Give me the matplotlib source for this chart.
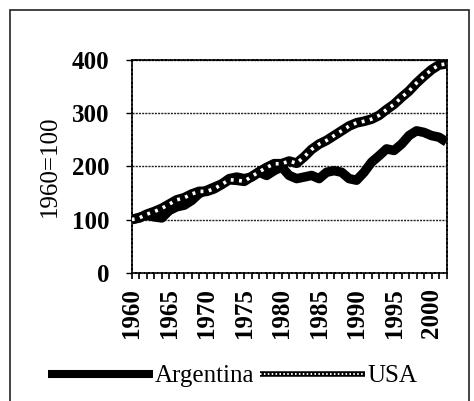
import matplotlib
matplotlib.use("Agg")
import matplotlib.pyplot as plt
from matplotlib.lines import Line2D
from matplotlib.legend_handler import HandlerTuple
from matplotlib.patches import Rectangle

years = list(range(1960, 2003))
argentina = [100, 104, 108, 105, 103, 117, 124, 127, 136, 149,
             155, 161, 167, 177, 180, 177, 180, 189, 183, 192,
             199, 183, 177, 180, 183, 177, 189, 192, 189, 177,
             174, 189, 208, 220, 233, 230, 242, 258, 267, 264,
             258, 255, 246]
usa = [100, 103, 110, 115, 121, 129, 137, 141, 148, 153,
       153, 158, 166, 175, 174, 172, 181, 190, 198, 205,
       205, 210, 206, 218, 232, 242, 249, 258, 267, 276,
       282, 285, 289, 296, 307, 317, 330, 342, 357, 370,
       382, 391, 393]
yticks = [0, 100, 200, 300, 400]
xlabels = [1960, 1965, 1970, 1975, 1980, 1985, 1990, 1995, 2000]

plt.rcParams['font.family'] = ['Liberation Serif', 'DejaVu Serif']

fig = plt.figure(figsize=(4.74, 4.01), dpi=100)
ax = fig.add_axes([0.278, 0.320, 0.664, 0.530])

for y in yticks[1:]:
    ax.axhline(y, color='#222222', lw=1.0, ls=(0, (1.5, 0.8)), zorder=1)

ax.plot(years, argentina, color='black', lw=6.8, solid_capstyle='butt',
        solid_joinstyle='round', zorder=3)
ax.plot(years, usa, color='black', lw=7.0, solid_capstyle='butt',
        solid_joinstyle='round', zorder=4)
ax.plot(years, usa, color='white', lw=2.6, ls=(0, (0.8, 1.5)), zorder=5)

ax.set_xlim(1960, 2002)
ax.set_ylim(0, 400)
ax.set_yticks(yticks)
ax.set_yticklabels([str(v) for v in yticks], fontsize=18, fontweight='bold')
ax.set_xticks(xlabels)
ax.set_xticklabels([str(v) for v in xlabels], rotation=90, fontsize=18, fontweight='bold')
ax.set_xticks(years, minor=True)
ax.tick_params(axis='x', which='both', direction='out', length=4, width=1.2, pad=7)
ax.tick_params(axis='y', direction='out', length=4, width=1.0, pad=12)
for s in ax.spines.values():
    s.set_linewidth(1.2)
    s.set_linestyle((0, (2, 0.6)))
ax.set_ylabel('1960=100', fontsize=18, labelpad=8)

h_arg = Line2D([], [], color='black', lw=5.8, solid_capstyle='butt')
h_usa1 = Line2D([], [], color='black', lw=4.0, solid_capstyle='butt')
h_usa2 = Line2D([], [], color='white', lw=1.4, ls=(0, (0.8, 1.2)))
fig.legend([h_arg, (h_usa1, h_usa2)], ['Argentina', 'USA'],
           handler_map={tuple: HandlerTuple(ndivide=1, pad=0)},
           loc='center', bbox_to_anchor=(0.49, 0.062), ncol=2, frameon=False,
           fontsize=18, handlelength=4.2, handletextpad=0.1, columnspacing=0.2,
           borderpad=0, borderaxespad=0)

fig.add_artist(Rectangle((10 / 474, -0.05), 459 / 474, 1 - 10 / 401 + 0.05,
                         transform=fig.transFigure, fill=False, lw=1.2,
                         edgecolor='#222222'))

fig.savefig('out.png', dpi=100)
